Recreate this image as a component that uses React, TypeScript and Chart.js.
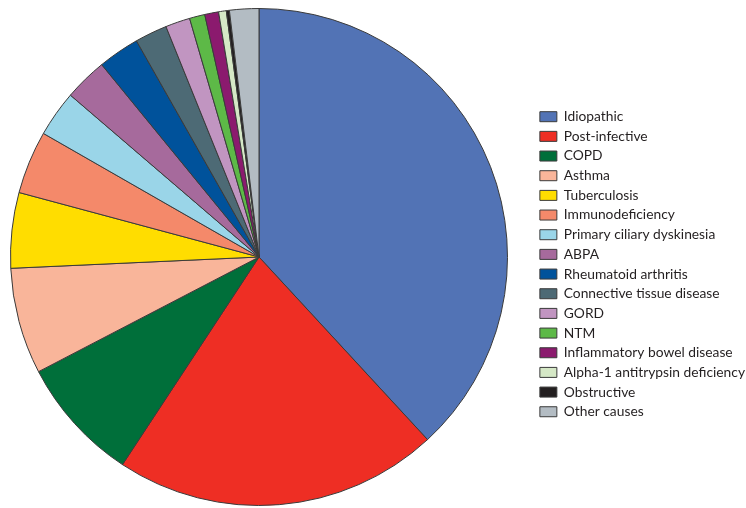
import React, { useEffect, useRef } from "react";
import { Chart, registerables } from "chart.js";

Chart.register(...registerables);

const categories = [
  "Idiopathic",
  "Post-infective",
  "COPD",
  "Asthma",
  "Tuberculosis",
  "Immunodeficiency",
  "Primary ciliary dyskinesia",
  "ABPA",
  "Rheumatoid arthritis",
  "Connective tissue disease",
  "GORD",
  "NTM",
  "Inflammatory bowel disease",
  "Alpha-1 antitrypsin deficiency",
  "Obstructive",
  "Other causes",
];

const shares = [38.1, 21.1, 8.1, 6.9, 4.9, 4.1, 3.0, 2.8, 2.7, 2.1, 1.6, 1.0, 0.9, 0.5, 0.2, 1.9];

const colors = [
  "#5273B5",
  "#EE2E24",
  "#006F3A",
  "#F9B59A",
  "#FFDD00",
  "#F4896A",
  "#9AD5E8",
  "#A66A9C",
  "#00529B",
  "#4D6A75",
  "#C195C1",
  "#5DB947",
  "#8B1A6E",
  "#D5E8C6",
  "#231F20",
  "#B3BCC3",
];

const CANVAS_W = 771;
const CANVAS_H = 508;
const SHIFT_X = 16;

export default function App() {
  const ref = useRef<HTMLCanvasElement | null>(null);

  useEffect(() => {
    if (!ref.current) return;
    const chart = new Chart(ref.current, {
      type: "pie",
      data: {
        labels: categories,
        datasets: [
          {
            data: shares,
            backgroundColor: colors,
            borderColor: "#3a3a3a",
            borderWidth: 1,
          },
        ],
      },
      options: {
        animation: false,
        responsive: false,
        layout: { padding: { top: 8, bottom: 2, left: 0, right: 0 } },
        plugins: {
          tooltip: { enabled: false },
          legend: {
            position: "right",
            title: {
              display: true,
              text: "",
              font: { size: 10, lineHeight: 1.2 },
              padding: { top: 1.22, bottom: 1.22 },
            },
            labels: {
              boxWidth: 17,
              boxHeight: 10,
              padding: 5.87,
              color: "#231F20",
              font: { family: "Lato", size: 13.8 },
            },
          },
        },
      },
    });
    return () => chart.destroy();
  }, []);

  return (
    <div
      style={{
        position: "fixed",
        left: 0,
        top: 0,
        width: 746,
        height: 508,
        overflow: "hidden",
        background: "#fff",
      }}
    >
      <div style={{ position: "absolute", left: -SHIFT_X, top: 0, width: CANVAS_W, height: CANVAS_H }}>
        <canvas ref={ref} width={CANVAS_W} height={CANVAS_H} style={{ display: "block" }} />
      </div>
    </div>
  );
}
